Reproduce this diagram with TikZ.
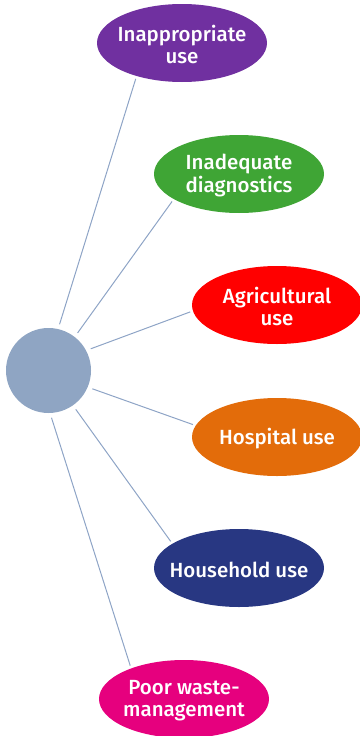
\documentclass[tikz,border=0pt]{standalone}
\usepackage{fontspec}
\setmainfont{Fira Sans}[UprightFont={* Medium}]
\usetikzlibrary{shapes.geometric}
\definecolor{hubblue}{HTML}{8FA5C3}
\definecolor{linkblue}{HTML}{8EA4C6}
\definecolor{cpurple}{HTML}{7030A0}
\definecolor{cgreen}{HTML}{3FA535}
\definecolor{cred}{HTML}{FF0000}
\definecolor{corange}{HTML}{E36C0A}
\definecolor{cnavy}{HTML}{283782}
\definecolor{cpink}{HTML}{E6007E}
\tikzset{
  leaf/.style={ellipse, minimum width=170pt, minimum height=78pt, inner sep=0pt, outer sep=0pt},
  leaftext/.style={text=white, align=center, inner sep=0pt, yshift=-1.5pt, font=\fontsize{20.5}{22.5}\selectfont},
  hub/.style={circle, minimum size=85pt, inner sep=0pt, outer sep=0pt, fill=hubblue},
  link/.style={draw=linkblue, line width=1pt, shorten <=5pt, shorten >=3pt}
}
\begin{document}
\begin{tikzpicture}[x=1pt,y=-1pt]
\useasboundingbox (0,0) rectangle (359,736);
\node[hub] (c) at (48.5,370.5) {};
\node[leaf, fill=cpurple, label={[leaftext]center:Inappropriate\\use}] (e1) at (182,43) {};
\node[leaf, fill=cgreen, label={[leaftext]center:Inadequate\\diagnostics}] (e2) at (239,174) {};
\node[leaf, fill=cred, label={[leaftext]center:Agricultural\\use}] (e3) at (277,305) {};
\node[leaf, fill=corange, label={[leaftext]center:Hospital use}] (e4) at (277,437) {};
\node[leaf, fill=cnavy, label={[leaftext]center:Household use}] (e5) at (239,568) {};
\node[leaf, fill=cpink, label={[leaftext]center:Poor waste-\\management}] (e6) at (184,699) {};
\draw[link] (c.77.3) -- (e1.216.3);
\draw[link] (c.52.5) -- (e2.201.7);
\draw[link] (c.28.8) -- (e3.184.5);
\draw[link] (c.-23.7) -- (e4.172.3);
\draw[link] (c.-55.2) -- (e5.160.4);
\draw[link] (c.-88.2) -- (e6.150.1);
\end{tikzpicture}
\end{document}
